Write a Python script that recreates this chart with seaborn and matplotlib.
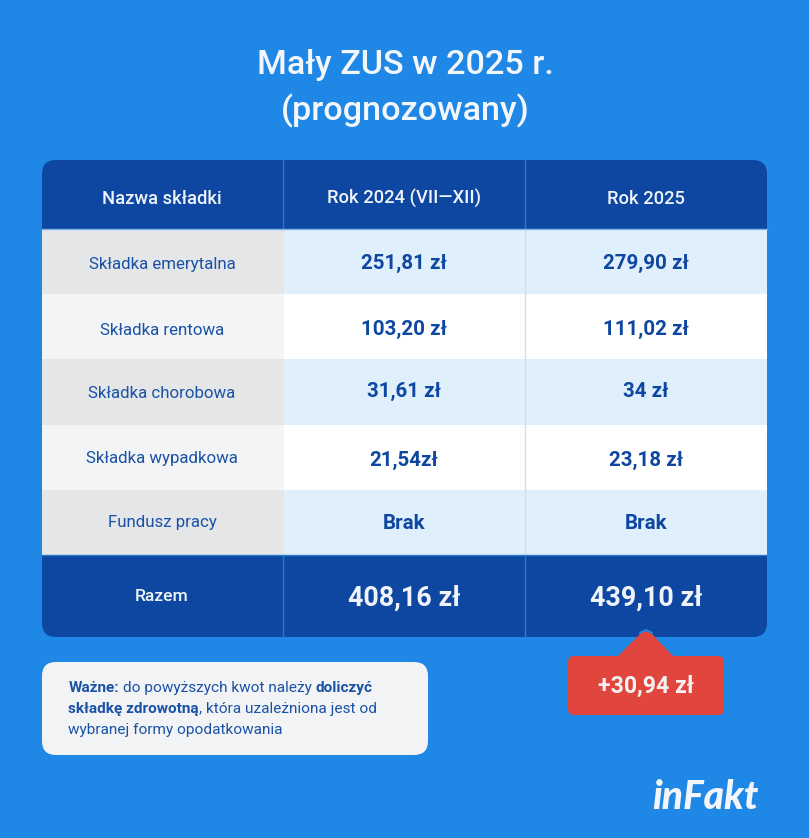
import numpy as np
import matplotlib
matplotlib.use("Agg")
import matplotlib.pyplot as plt
import seaborn as sns
from matplotlib.colors import ListedColormap
from matplotlib.patches import FancyBboxPatch, Polygon

title_lines = ["Mały ZUS w 2025 r.", "(prognozowany)"]
headers = ["Nazwa składki", "Rok 2024 (VII—XII)", "Rok 2025"]
row_names = ["Składka emerytalna", "Składka rentowa", "Składka chorobowa", "Składka wypadkowa", "Fundusz pracy"]
values_2024 = ["251,81 zł", "103,20 zł", "31,61 zł", "21,54zł", "Brak"]
values_2025 = ["279,90 zł", "111,02 zł", "34 zł", "23,18 zł", "Brak"]
total_label = "Razem"
total_2024 = "408,16 zł"
total_2025 = "439,10 zł"
diff_label = "+30,94 zł"

BG = "#1f88e6"
DARK = "#0d47a1"
RED = "#e0463e"
TEXT_BLUE = "#1a52a6"
shades = ["#e4e6e8", "#f2f4f6", "#e0effc", "#ffffff"]

W, H = 809, 838
sns.set_style("white")
plt.rcParams["font.family"] = ["Roboto", "DejaVu Sans"]

fig = plt.figure(figsize=(W / 100, H / 100), dpi=100, facecolor=BG)
ax = fig.add_axes([0, 0, 1, 1])
ax.set_xlim(0, W)
ax.set_ylim(H, 0)
ax.axis("off")

# table frame, the body grid goes on top of it
L, R, T, B = 42, 767, 160, 637
ax.add_patch(FancyBboxPatch((L + 14, T + 14), R - L - 28, B - T - 28,
                            boxstyle="round,pad=14,rounding_size=14", fc=DARK, ec="none", zorder=1))
col_x = [42, 283, 525, 767]
col_mid = [162, 404, 646]
body_top, body_bot = 229, 555

# body cells, 0/1 first column shades, 2/3 value columns
cells = np.array([[0, 2, 2], [1, 3, 3], [0, 2, 2], [1, 3, 3], [0, 2, 2]])
ax_body = fig.add_axes([L / W, 1 - body_bot / H, (R - L) / W, (body_bot - body_top) / H])
sns.heatmap(cells, ax=ax_body, cmap=ListedColormap(shades), vmin=-0.5, vmax=3.5, cbar=False,
            xticklabels=False, yticklabels=False, linewidths=0)
ax_body.set_zorder(2)
ax_body.patch.set_visible(False)

# top axes for lines and text
ov = fig.add_axes([0, 0, 1, 1], zorder=3)
ov.set_xlim(0, W)
ov.set_ylim(H, 0)
ov.axis("off")
ov.patch.set_visible(False)

for x in col_x[1:3]:
    ov.plot([x, x], [T, body_top], color="#2a7bd0", lw=1, zorder=3)
    ov.plot([x, x], [body_bot, B], color="#2a7bd0", lw=1, zorder=3)
ov.plot([525, 525], [body_top, body_bot], color="#d5dde6", lw=1, zorder=3)
ov.plot([L, R], [body_top, body_top], color="#7fb4ea", lw=1, zorder=3)
ov.plot([L, R], [body_bot, body_bot], color="#2a7bd0", lw=1, zorder=3)

ov.text(W / 2 + 0.5, 65, title_lines[0], color="#f3f6fa", fontsize=24.6, fontweight="medium", ha="center", va="center")
ov.text(W / 2 + 0.5, 111, title_lines[1], color="#f3f6fa", fontsize=24.6, fontweight="medium", ha="center", va="center")

for x, h in zip(col_mid, headers):
    ov.text(x, 198.5, h, color="#f0f4fa", fontsize=13.2, fontweight="medium", ha="center", va="center")

label_y = [264, 330, 393, 458, 522]
value_y = [263, 329, 391, 460, 523]
for name, v1, v2, ly, vy in zip(row_names, values_2024, values_2025, label_y, value_y):
    ov.text(162, ly, name, color=TEXT_BLUE, fontsize=12.2, ha="center", va="center")
    ov.text(404, vy, v1, color=DARK, fontsize=14.8, fontweight="bold", ha="center", va="center")
    ov.text(646, vy, v2, color=DARK, fontsize=14.8, fontweight="bold", ha="center", va="center")

ov.text(162, 596.5, total_label, color="#f0f4fa", fontsize=12.6, fontweight="medium", ha="center", va="center")
ov.text(404, 598.5, total_2024, color="#f0f4fa", fontsize=19.4, fontweight="bold", ha="center", va="center")
ov.text(646, 598.5, total_2025, color="#f0f4fa", fontsize=19.4, fontweight="bold", ha="center", va="center")

# red badge with pointer
ov.add_patch(FancyBboxPatch((574, 662), 144, 47, boxstyle="round,pad=6,rounding_size=6", fc=RED, ec="none", zorder=3))
ov.add_patch(Polygon([[617, 657], [640, 634], [646, 631], [652, 634], [674, 657]], closed=True, fc=RED, ec="none", zorder=3))
ov.plot([640, 646, 652], [633, 630, 633], color=BG, lw=1.5, zorder=2.9)
ov.text(645.5, 686.5, diff_label, color="#f5f2f1", fontsize=16.6, fontweight="bold", ha="center", va="center", zorder=4)

# note box
ov.add_patch(FancyBboxPatch((56, 676), 358, 65, boxstyle="round,pad=14,rounding_size=14", fc="#f2f3f5", ec="none", zorder=3))
note_lines = [
    (688, [("Ważne:", "bold"), (" do powyższych kwot należy ", "normal"), ("doliczyć", "bold")]),
    (709, [("składkę zdrowotną", "bold"), (", która uzależniona jest od", "normal")]),
    (730, [("wybranej formy opodatkowania", "normal")]),
]
renderer = fig.canvas.get_renderer()
for y, runs in note_lines:
    x = 68.5
    for txt, weight in runs:
        # keep spaces in the measured width by measuring with a trailing dot
        t = ov.text(x, y, txt, color=TEXT_BLUE, fontsize=11.1, fontweight=weight, ha="left", va="center", zorder=4)
        probe = ov.text(0, 0, txt + ".", fontsize=11.1, fontweight=weight)
        dot = ov.text(0, 0, ".", fontsize=11.1, fontweight=weight)
        x += probe.get_window_extent(renderer).width - dot.get_window_extent(renderer).width
        probe.remove()
        dot.remove()

# logo
ov.text(705, 797, "inFakt", color="#f2f5f9", fontsize=28, fontfamily="Lato", fontweight="black", style="italic", ha="center", va="center")

fig.savefig("out.png", dpi=100, facecolor=BG)
